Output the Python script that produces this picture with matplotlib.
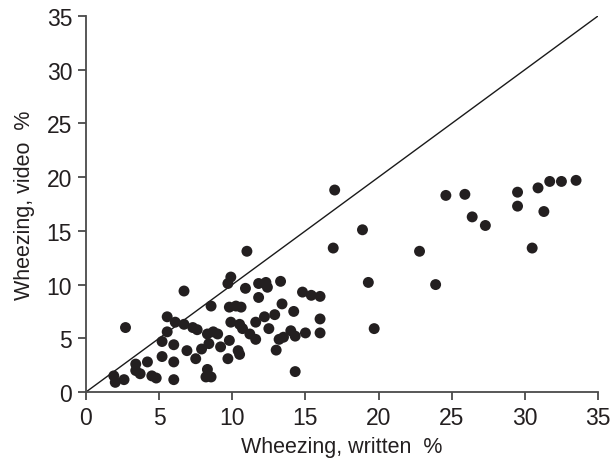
import matplotlib
matplotlib.use("Agg")
import matplotlib.pyplot as plt

# Wheezing prevalence (%) per centre: written questionnaire vs video questionnaire
written = [
    1.9, 2.0, 2.6, 2.7, 3.4, 4.2, 3.4, 3.7, 4.5, 4.8,
    5.2, 5.2, 5.55, 5.55, 6.1, 6.7, 6.0, 6.0, 6.0, 6.7,
    6.9, 7.3, 7.6, 7.5, 7.9, 8.4, 8.3, 8.7, 9.0, 9.2,
    9.8, 9.7, 10.4, 10.5, 8.3, 8.2, 8.55, 8.55, 9.8, 10.25,
    10.6, 9.9, 9.7, 10.9, 11.0, 11.8, 12.3, 12.4, 13.3, 11.8,
    9.9, 10.5, 10.7, 11.2, 11.6, 11.6, 12.2, 12.9, 12.5, 13.4,
    14.2, 14.8, 15.4, 16.0, 16.0, 16.0, 13.2, 13.5, 14.0, 14.3,
    15.0, 13.0, 14.3,
    17.0, 18.9, 16.9, 19.3, 19.7, 22.8, 23.9, 24.6, 25.9, 26.4,
    27.3, 29.5, 29.5, 30.5, 30.9, 31.3, 31.7, 32.5, 33.5,
]
video = [
    1.5, 0.9, 1.15, 6.0, 2.6, 2.8, 2.0, 1.7, 1.5, 1.3,
    3.3, 4.7, 5.6, 7.0, 6.5, 6.3, 4.4, 2.8, 1.15, 9.4,
    3.85, 6.0, 5.8, 3.1, 4.0, 4.5, 5.4, 5.6, 5.4, 4.2,
    4.8, 3.1, 3.85, 3.5, 2.1, 1.4, 1.4, 8.0, 7.9, 8.0,
    7.9, 10.7, 10.1, 9.65, 13.1, 10.1, 10.2, 9.75, 10.3, 8.8,
    6.5, 6.3, 5.9, 5.4, 4.9, 6.5, 7.0, 7.2, 5.9, 8.2,
    7.5, 9.3, 9.0, 8.9, 6.8, 5.5, 4.9, 5.1, 5.7, 5.2,
    5.5, 3.9, 1.9,
    18.8, 15.1, 13.4, 10.2, 5.9, 13.1, 10.0, 18.3, 18.4, 16.3,
    15.5, 18.6, 17.3, 13.4, 19.0, 16.8, 19.6, 19.6, 19.7,
]
ticks = [0, 5, 10, 15, 20, 25, 30, 35]

plt.rcParams["font.family"] = ["Liberation Sans", "DejaVu Sans"]
AXIS_COLOR = "#4a4a4a"
TEXT_COLOR = "#231f20"

fig = plt.figure(figsize=(6.13, 4.64), dpi=100)
ax = fig.add_axes([86 / 613, 71 / 464, 512 / 613, 376 / 464])

# line of identity
ax.plot([0, 35], [0, 35], color="#1a1a1a", linewidth=1.0, zorder=2)
ax.scatter(written, video, s=62, color=TEXT_COLOR, edgecolors="none", zorder=3, clip_on=False)

ax.set_xlim(0, 35)
ax.set_ylim(0, 35)
ax.set_xticks(ticks)
ax.set_yticks(ticks)
ax.tick_params(direction="out", length=6, width=1.3, colors=AXIS_COLOR,
               labelcolor=TEXT_COLOR, labelsize=16.5, pad=4)
for side in ["top", "right"]:
    ax.spines[side].set_visible(False)
for side in ["left", "bottom"]:
    ax.spines[side].set_color(AXIS_COLOR)
    ax.spines[side].set_linewidth(1.3)

ax.set_xlabel("Wheezing, written  %", fontsize=15.5, color=TEXT_COLOR, labelpad=5)
ax.set_ylabel("Wheezing, video  %", fontsize=15.5, color=TEXT_COLOR, labelpad=8)

fig.savefig("out.png", dpi=100)
